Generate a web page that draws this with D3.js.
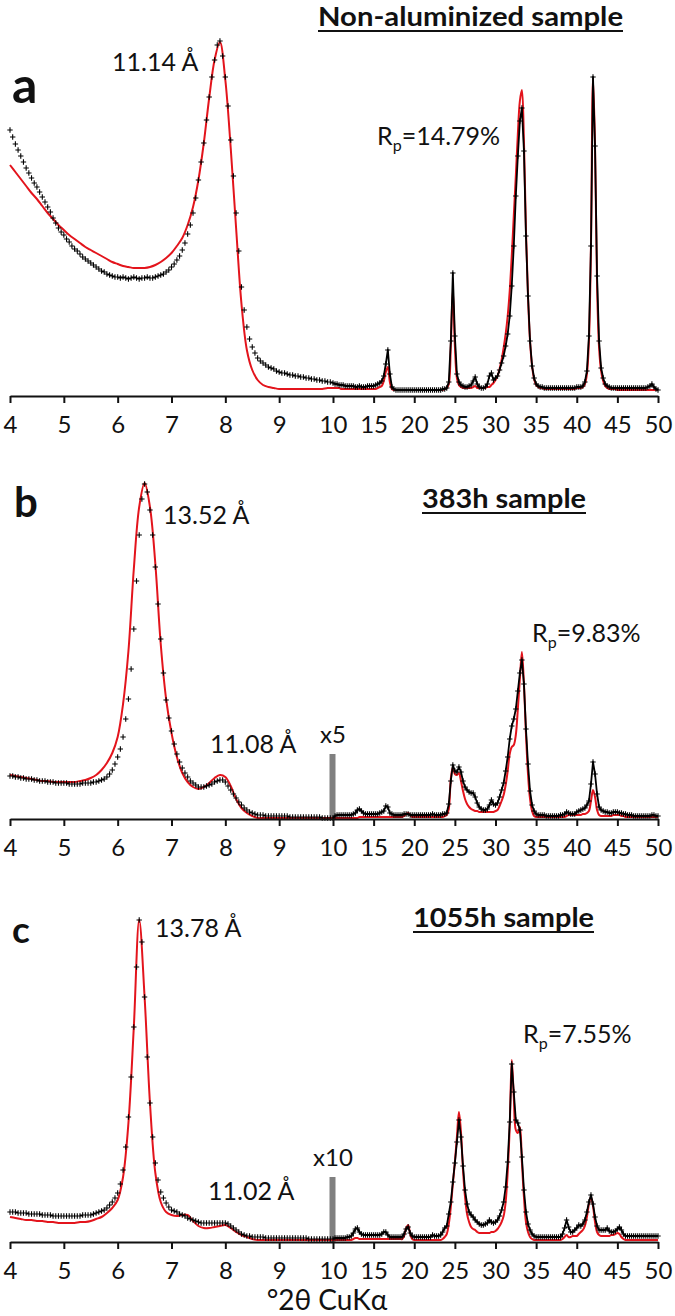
<!DOCTYPE html>
<html><head><meta charset="utf-8">
<script src="https://cdn.jsdelivr.net/npm/d3@7"></script>
<style>
body{margin:0;background:#fff}
svg{display:block}
text{font-family:Lato,"Open Sans","DejaVu Sans",sans-serif;fill:#111}
</style>
</head><body>
<svg id="chart" width="675" height="1316"></svg>
<script>
// ---------- DATA (relative intensity) ----------
const xTicks = [4,5,6,7,8,9,10,15,20,25,30,35,40,45,50];
const lowStart = 4, obsLowStep = 0.05, calcLowStep = 0.1;
const highStart = 10, highStep = 0.25;

// Panel a: non-aluminized sample
const obsLowA = [266,259,252,246,240,234,228,223,218,213,
209,204,199,194,189,184,178,173,168,164,
161,157,154,150,147,145,142,139,137,135,
133,131,129,127,125,124,122,121,120,119,
119,118,119,118,117,118,119,118,117,118,
118,119,118,118,119,120,121,122,124,126,
129,132,136,140,146,153,162,171,183,198,
216,234,253,276,299,319,336,351,355,340,
319,290,256,220,183,145,109,86,69,57,
49,43,38,35,33,31,29,28,27,25,
24,23,23,22,21,21,20,20,19,19,
18,18,17,17,16,16,15,15,14,14,
13];
const calcLowA = [231,224,217,210,203,197,190,183,177,171,
166,161,157,153,149,146,143,140,137,134,
132,130,129,128,128,128,129,131,134,138,
143,150,158,171,189,216,253,298,336,354,
316,248,168,92,46,26,16,11,9,8,
7,7,7,7,7,7,7,7,7,8,
8];
const obsHighA = [13,12,12,11, 11,11,10,10, 10,10,10,9, 9,10,9,9, 9,10,10,10,
10,11,12,13, 15,20,32,46, 22,9,7,6, 6,6,6,6, 6,6,6,6,
6,6,6,6, 6,6,6,6, 6,6,6,6, 6,6,7,7, 8,14,55,123,
60,22,14,11, 10,9,9,10, 11,15,19,12, 9,8,8,9, 12,20,23,16,
18,20,26,33, 40,50,62,80, 110,150,200,240, 275,288,245,160, 100,55,30,18,
12,10,9,9, 8,8,8,8, 8,8,8,8, 8,8,8,8, 8,8,8,8,
9,9,9,10, 14,25,60,150, 319,250,120,55, 28,18,12,10, 9,8,8,8,
8,8,8,8, 8,8,8,8, 8,8,8,8, 8,8,8,9, 10,12,9,7,
6];
const calcHighA = [8,8,8,8, 7,7,7,7, 7,7,7,7, 7,7,7,7, 7,7,7,7,
7,7,8,9, 10,15,24,29, 14,7,6,6, 6,6,6,6, 6,6,6,6,
6,6,6,6, 6,6,6,6, 6,6,6,6, 6,6,6,7, 8,12,50,106,
50,18,11,9, 8,8,8,8, 8,9,10,8, 8,8,8,8, 9,9,11,13,
16,20,27,36, 48,62,80,105, 140,180,220,262, 295,306,255,165, 100,55,30,17,
11,9,8,8, 7,7,7,7, 7,7,7,7, 7,7,7,7, 7,7,7,7,
8,8,8,9, 12,22,55,150, 318,250,110,48, 25,15,10,8, 7,7,7,7,
6,6,6,6, 6,6,6,6, 6,6,6,6, 6,6,6,6, 6,6,6,6,
6];

// Panel b: 383h sample
const obsLowB = [43,43,42,42,41,41,40,40,40,39,
39,38,38,38,37,37,37,36,36,36,
36,36,35,35,35,35,35,36,36,36,
36,37,37,38,39,40,42,45,49,55,
62,70,82,100,120,150,190,238,284,320,
335,327,309,284,252,215,180,146,119,101,
88,75,65,57,51,46,42,38,36,34,
32,32,32,33,34,35,37,38,39,39,
37,33,29,25,21,17,14,11,9,7,
6,5,4,4,4,3,3,3,3,3,
3,3,3,3,2,2,2,2,2,2,
2,2,2,2,2,2,1,1,1,1,
1];
const calcLowB = [44,43,42,41,40,39,38,38,37,37,
37,37,37,38,39,41,44,49,56,66,
82,115,168,250,312,336,312,255,175,120,
86,62,46,37,32,30,32,36,41,44,
42,33,20,11,6,3,1,1,1,1,
1,1,1,1,1,1,1,1,1,1,
1];
const obsHighB = [1,3,4,4, 4,4,4,4, 4,4,5,6, 9,10,8,6, 5,5,5,5,
5,5,5,6, 7,8,13,12, 6,5,4,4, 4,4,4,5, 5,5,4,4,
4,4,4,4, 4,4,4,4, 4,5,4,4, 4,4,5,5, 6,15,38,54,
48,47,52,47, 38,32,29,27, 26,26,22,16, 12,10,9,9, 10,14,19,15,
14,16,22,29, 36,48,62,80, 93,100,110,128, 146,159,135,90, 55,28,14,8,
5,4,4,4, 4,3,3,3, 3,3,3,3, 4,4,5,7, 6,5,5,5,
7,8,9,10, 11,14,18,35, 57,45,25,12, 9,8,7,7, 6,6,7,7,
7,6,6,5, 5,4,4,4, 3,3,3,3, 3,3,3,3, 3,4,4,3,
3];
const calcHighB = [1,1,1,1, 1,1,1,1, 1,1,1,1, 1,2,2,2, 2,2,2,2,
2,2,2,2, 2,2,2,2, 2,2,2,2, 2,2,2,3, 5,6,4,2,
2,2,2,2, 2,2,2,2, 2,2,2,2, 2,2,2,3, 4,10,40,52,
45,44,46,38, 28,20,15,12, 10,9,8,8, 7,7,7,7, 7,7,7,7,
8,9,13,18, 24,34,48,65, 72,74,84,110, 140,167,135,85, 45,20,8,3,
2,2,2,2, 2,2,2,2, 2,2,2,2, 2,2,2,3, 4,4,4,4,
4,4,4,5, 5,6,8,18, 29,22,9,4, 3,3,3,3, 3,3,4,4,
4,4,3,3, 2,2,2,2, 2,2,2,2, 2,2,2,2, 2,2,2,2,
2];

// Panel c: 1055h sample
const obsLowC = [30,30,30,29,29,29,29,28,28,28,
28,28,27,27,27,27,26,26,26,26,
26,26,26,26,26,26,26,27,27,27,
27,28,29,30,31,32,34,37,40,44,
49,58,72,95,125,165,215,275,322,300,
245,185,139,105,79,62,50,44,39,35,
32,31,30,28,27,26,24,23,22,21,
20,19,19,19,19,19,19,19,19,19,
19,18,16,14,12,10,8,7,6,6,
5,5,5,5,5,4,4,4,4,4,
4,4,4,4,4,4,4,4,4,4,
4,3,3,3,3,3,3,3,3,3,
3];
const calcLowC = [25,24,23,22,22,21,21,20,20,19,
19,19,19,20,20,21,23,25,29,34,
42,65,119,215,322,245,139,69,40,30,
27,26,27,27,21,16,14,14,15,16,
17,14,10,7,5,3,2,2,2,2,
2,2,2,2,2,2,2,2,2,2,
2];
const obsHighC = [3,4,4,4, 4,4,4,5, 5,6,9,13, 14,10,8,7, 7,7,7,7,
7,7,7,7, 8,10,10,7, 5,5,5,5, 5,5,5,8, 13,15,9,6,
5,5,5,5, 5,5,5,5, 5,7,6,6, 6,7,10,14, 16,28,40,60,
79,100,122,105, 76,52,38,30, 27,25,22,20, 18,17,17,18, 19,22,20,19,
20,22,26,32, 40,55,80,120, 178,150,122,119, 112,85,52,30, 18,12,8,6,
5,5,5,5, 5,5,5,5, 5,5,5,5, 5,8,14,22, 15,10,10,12,
14,17,16,18, 22,30,40,47, 38,25,16,12, 12,12,12,14, 11,10,10,11,
13,15,12,8, 6,6,6,6, 6,6,6,6, 6,6,6,6, 6,6,6,6,
6];
const calcHighC = [2,2,2,2, 2,2,2,2, 2,2,3,4, 4,3,3,3, 3,3,3,3,
3,3,3,3, 3,3,3,3, 3,3,3,3, 3,3,3,6, 14,17,8,3,
2,2,2,2, 2,2,2,2, 2,2,2,2, 2,2,3,5, 8,18,35,58,
80,105,130,110, 72,45,28,20, 15,13,12,10, 9,9,9,9, 9,9,10,10,
11,13,16,20, 26,40,70,115, 182,145,112,109, 115,80,45,20, 10,5,3,2,
2,2,2,2, 2,2,2,2, 2,2,2,2, 2,3,5,7, 5,5,6,6,
6,8,10,12, 16,25,38,45, 36,20,10,7, 6,6,6,6, 6,7,7,8,
9,8,5,3, 2,2,2,2, 2,2,2,2, 2,2,2,2, 2,2,2,2,
2];

const panelLetters = ["a","b","c"];
const panelTitles = ["Non-aluminized sample","383h sample","1055h sample"];
const rpValues = ["14.79%","9.83%","7.55%"];
const peakLabels = [["11.14 Å"],["13.52 Å","11.08 Å"],["13.78 Å","11.02 Å"]];
const scaleFactors = [null,"x5","x10"];
const xAxisTitle = "°2θ CuKα";

// ---------- LAYOUT ----------
const layout = [
  {axisY:396, letter:{x:12,y:103,size:50}, title:{x:318,y:26,w:305,size:26}, rp:{x:377,y:145},
   peaks:[{x:112,y:71}], obsLow:obsLowA, calcLow:calcLowA, obsHigh:obsHighA, calcHigh:calcHighA},
  {axisY:819, letter:{x:14,y:517,size:42}, title:{x:422,y:508,w:164,size:27}, rp:{x:532,y:642},
   peaks:[{x:163,y:524},{x:210,y:753}], obsLow:obsLowB, calcLow:calcLowB, obsHigh:obsHighB, calcHigh:calcHighB},
  {axisY:1242, letter:{x:12,y:943,size:37}, title:{x:413,y:927,w:181,size:27}, rp:{x:523,y:1043},
   peaks:[{x:155,y:937},{x:208,y:1200}], obsLow:obsLowC, calcLow:calcLowC, obsHigh:obsHighC, calcHigh:calcHighC}
];

const svg = d3.select("#chart");
const x = d3.scaleLinear().domain([4,10,50]).range([10,333,658]);

layout.forEach((p,i) => {
  const y = d3.scaleLinear().domain([0,360]).range([p.axisY, p.axisY-360]);
  const g = svg.append("g");

  const obsHigh = p.obsHigh.map((v,k)=>[highStart+k*highStep, v]);
  const obs = p.obsLow.map((v,k)=>[lowStart+k*obsLowStep, v]).concat(obsHigh);
  const calc = p.calcLow.map((v,k)=>[lowStart+k*calcLowStep, v])
    .concat(p.calcHigh.slice(1).map((v,k)=>[highStart+(k+1)*highStep, v]));

  // scale-factor bar
  if (scaleFactors[i]) {
    g.append("rect").attr("x", x(10)-3.5).attr("width",6)
      .attr("y", p.axisY-65).attr("height",65).attr("fill","#808080");
    g.append("text").attr("x", x(10)).attr("y", p.axisY-76)
      .attr("text-anchor","middle").attr("font-size",24).text(scaleFactors[i]);
  }

  // calculated (red line)
  g.append("path").datum(calc)
    .attr("d", d3.line().x(d=>x(d[0])).y(d=>y(d[1])).curve(d3.curveCatmullRom.alpha(0.5)))
    .attr("fill","none").attr("stroke","#e3141c").attr("stroke-width",2);

  // observed: dense region drawn as thick trace
  g.append("path").datum(obsHigh)
    .attr("d", d3.line().x(d=>x(d[0])).y(d=>y(d[1])).curve(d3.curveLinear))
    .attr("fill","none").attr("stroke","#000").attr("stroke-width",1.8).attr("stroke-linejoin","round");

  // observed (+ markers)
  const s = 2.7;
  const crossPath = obs.map(d=>{
    const cx = x(d[0]), cy = y(d[1]);
    return `M${cx-s},${cy}H${cx+s}M${cx},${cy-s}V${cy+s}`;
  }).join("");
  g.append("path").attr("d", crossPath).attr("fill","none")
    .attr("stroke","#000").attr("stroke-width",1.1);

  // axis
  const ax = g.append("g").attr("transform",`translate(0,${p.axisY})`)
    .call(d3.axisBottom(x).tickValues(xTicks).tickSize(7).tickSizeOuter(0).tickPadding(13).tickFormat(d3.format("d")));
  ax.select(".domain").attr("stroke","#111").attr("stroke-width",2);
  ax.selectAll(".tick line").attr("stroke","#111").attr("stroke-width",2);
  ax.selectAll(".tick text").attr("font-size",24).attr("fill","#111")
    .attr("font-family",'Lato,"Open Sans",sans-serif');

  // panel letter
  g.append("text").attr("x",p.letter.x).attr("y",p.letter.y)
    .attr("font-size",p.letter.size).attr("font-weight","bold").text(panelLetters[i]);

  // title with underline
  g.append("text").attr("x",p.title.x).attr("y",p.title.y)
    .attr("font-size",p.title.size).attr("font-weight","bold")
    .attr("textLength",p.title.w).attr("lengthAdjust","spacingAndGlyphs")
    .text(panelTitles[i]);
  g.append("line").attr("x1",p.title.x).attr("x2",p.title.x+p.title.w)
    .attr("y1",p.title.y+5).attr("y2",p.title.y+5).attr("stroke","#111").attr("stroke-width",2.2);

  // Rp
  const rp = g.append("text").attr("x",p.rp.x).attr("y",p.rp.y).attr("font-size",25);
  rp.append("tspan").text("R");
  rp.append("tspan").attr("font-size",16).attr("dy",6).text("p");
  rp.append("tspan").attr("dy",-6).text("=" + rpValues[i]);

  // peak labels
  peakLabels[i].forEach((lab,k)=>{
    g.append("text").attr("x",p.peaks[k].x).attr("y",p.peaks[k].y)
      .attr("font-size",25).text(lab);
  });
});

svg.append("text").attr("x",327).attr("y",1310).attr("text-anchor","middle")
  .attr("font-size",28).text(xAxisTitle);
</script>
</body></html>
